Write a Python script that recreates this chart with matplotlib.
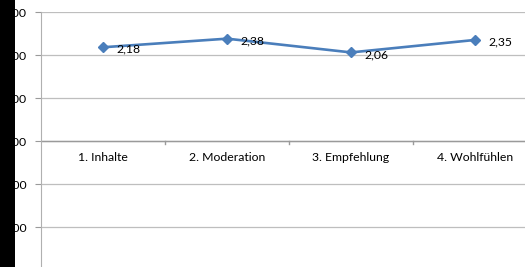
import matplotlib.pyplot as plt
from matplotlib.patches import Rectangle
from matplotlib.ticker import FuncFormatter

# Data
categories = ["1. Inhalte", "2. Moderation", "3. Empfehlung", "4. Wohlfühlen"]
values = [2.18, 2.38, 2.06, 2.35]
y_ticks = [-3, -2, -1, 0, 1, 2, 3]

W, H = 525, 267
fig = plt.figure(figsize=(W / 100, H / 100), dpi=100)
plt.rcParams['font.family'] = ['Lato', 'DejaVu Sans']
fs = 8.8

# plot area in pixels (extends beyond the cropped screenshot on right/bottom)
left, right, top = 41, 537, 12
unit = 43
bottom = top + 6 * unit
ax = fig.add_axes([left / W, 1 - bottom / H, (right - left) / W, (bottom - top) / H])
ax.set_xlim(-0.5, len(categories) - 0.5)
ax.set_ylim(-3, 3)

x = list(range(len(categories)))
ax.plot(x, values, color="#4A7EBB", lw=1.9, marker="D", ms=5.5,
        markerfacecolor="#4A7EBB", markeredgecolor="#4A7EBB", zorder=3)
for xi, v in zip(x, values):
    ax.annotate(f"{v:.2f}".replace(".", ","), (xi, v), xytext=(10, -1.5),
                textcoords="offset points", va="center", ha="left",
                fontsize=fs, color="black")

# gridlines
ax.set_yticks(y_ticks)
ax.yaxis.set_major_formatter(FuncFormatter(lambda v, p: f"{v:.2f}".replace(".", ",")))
ax.grid(axis="y", color="#BEBEBE", lw=0.9)
ax.set_axisbelow(True)
ax.tick_params(axis="y", length=4, color="#9A9A9A", labelsize=fs, pad=6.5)

# category axis crossing at 0
ax.set_xticks([])
for s in ["top", "right", "bottom"]:
    ax.spines[s].set_visible(False)
ax.spines["left"].set_color("#B0B0B0")
ax.axhline(0, color="#9A9A9A", lw=1.0, zorder=2)
for b in [0.5, 1.5, 2.5]:
    ax.plot([b, b], [0, -0.08], color="#9A9A9A", lw=1.0, clip_on=False, zorder=2)
for xi, c in zip(x, categories):
    ax.text(xi, -0.38, c, ha="center", va="center", fontsize=fs, color="black")

# black bar on the left edge of the screenshot
fig.patches.append(Rectangle((0, 0), 15 / W, 1, transform=fig.transFigure,
                             facecolor="black", edgecolor="none", zorder=10))

fig.savefig("out.png", dpi=100)
